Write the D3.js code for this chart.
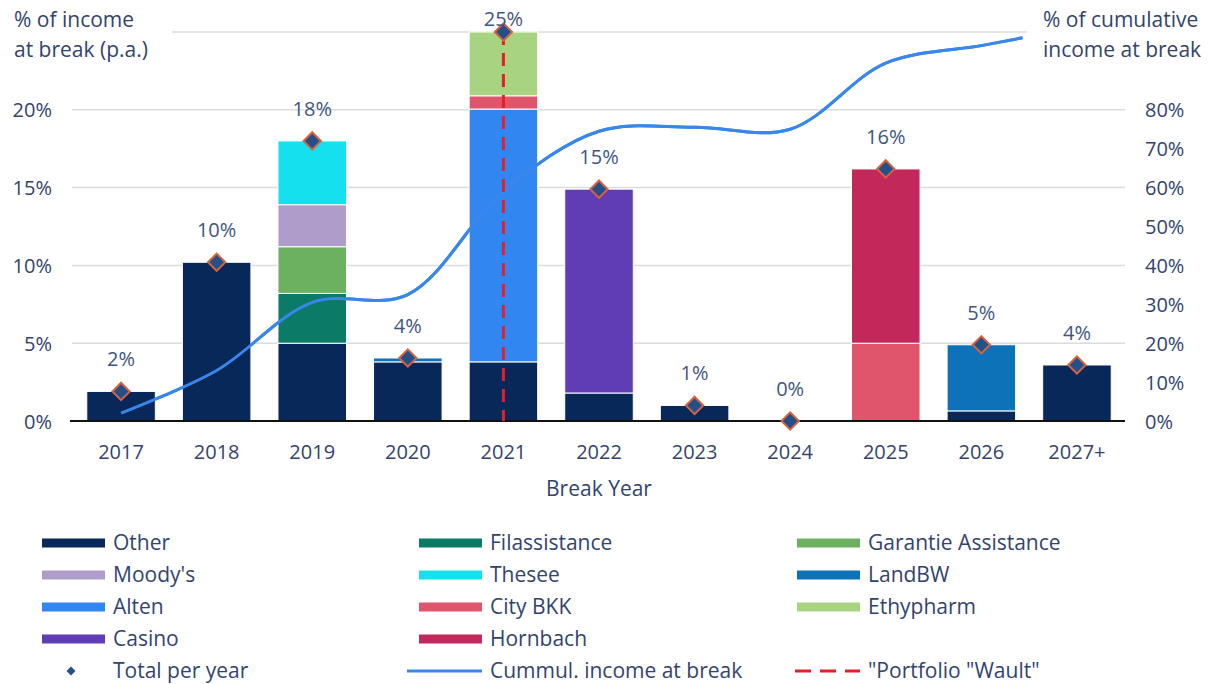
<!DOCTYPE html>
<html>
<head>
<meta charset="utf-8">
<script src="https://d3js.org/d3.v7.min.js"></script>
<style>
  body { margin: 0; background: #fff; }
  text { font-family: "Open Sans", "Noto Sans", sans-serif; }
  .grid line { stroke: #dcdcdc; stroke-width: 1.5px; }
  .tick-label { fill: #33446c; font-size: 20px; }
  .data-label { fill: #3f5680; font-size: 20px; }
  .legend text { fill: #33446c; font-size: 21px; }
</style>
</head>
<body>
<svg id="chart" width="1212" height="684"></svg>
<script>
// categories
const years = ["2017", "2018", "2019", "2020", "2021", "2022", "2023", "2024", "2025", "2026", "2027+"];

// % of income at break per tenant (p.a.)
const other        = [1.9, 10.2, 5.0, 3.8, 3.8, 1.8, 1.0, 0, 0, 0.65, 3.6];
const filassistance = [0, 0, 3.2, 0, 0, 0, 0, 0, 0, 0, 0];
const garantie     = [0, 0, 3.0, 0, 0, 0, 0, 0, 0, 0, 0];
const moodys       = [0, 0, 2.7, 0, 0, 0, 0, 0, 0, 0, 0];
const thesee       = [0, 0, 4.1, 0, 0, 0, 0, 0, 0, 0, 0];
const landbw       = [0, 0, 0, 0.25, 0, 0, 0, 0, 0, 4.25, 0];
const alten        = [0, 0, 0, 0, 16.25, 0, 0, 0, 0, 0, 0];
const citybkk      = [0, 0, 0, 0, 0.85, 0, 0, 0, 5.0, 0, 0];
const ethypharm    = [0, 0, 0, 0, 4.1, 0, 0, 0, 0, 0, 0];
const casino       = [0, 0, 0, 0, 0, 13.1, 0, 0, 0, 0, 0];
const hornbach     = [0, 0, 0, 0, 0, 0, 0, 0, 11.2, 0, 0];

// cumulative income at break (right axis) and where each point sits (year index)
const cumul    = [2, 13, 30.5, 32.5, 59, 74.5, 75.5, 75, 92, 96.5, 98.5];
const cumulPos = [0, 1, 2, 3, 4, 5, 6, 7, 8, 9, 9.43];

const waultYear = "2021";

const leftTicks = [0, 5, 10, 15, 20];
const rightTicks = [0, 10, 20, 30, 40, 50, 60, 70, 80];

const series = [
  { name: "Other", values: other, color: "#08285a" },
  { name: "Filassistance", values: filassistance, color: "#0b7a66" },
  { name: "Garantie Assistance", values: garantie, color: "#6cb160" },
  { name: "Moody's", values: moodys, color: "#af9ccb" },
  { name: "Thesee", values: thesee, color: "#15e1ee" },
  { name: "LandBW", values: landbw, color: "#0e72b9" },
  { name: "Alten", values: alten, color: "#3286f0" },
  { name: "City BKK", values: citybkk, color: "#df556b" },
  { name: "Ethypharm", values: ethypharm, color: "#a8d380" },
  { name: "Casino", values: casino, color: "#603db5" },
  { name: "Hornbach", values: hornbach, color: "#c2295a" }
];

const svg = d3.select("#chart");

const x = d3.scaleBand().domain(years).range([73.4, 1124.6])
  .paddingInner(0.283).paddingOuter(0.14);
const y = d3.scaleLinear().domain([0, 25]).range([421, 32]);
const yR = d3.scaleLinear().domain([0, 100]).range([421, 32]);
const xi = d3.scaleLinear().domain([0, years.length - 1])
  .range([x(years[0]) + x.bandwidth() / 2, x(years[years.length - 1]) + x.bandwidth() / 2]);

// gridlines
const grid = svg.append("g").attr("class", "grid");
grid.selectAll("line").data([5, 10, 15, 20, 25]).join("line")
  .attr("x1", 72).attr("x2", 1125)
  .attr("y1", d => y(d)).attr("y2", d => y(d));

// titles sit on white boxes over the top gridline
svg.append("rect").attr("x", 0).attr("y", 0).attr("width", 172).attr("height", 68).attr("fill", "#fff");
svg.append("rect").attr("x", 1027).attr("y", 0).attr("width", 185).attr("height", 68).attr("fill", "#fff");

const titles = svg.append("g").attr("class", "tick-label").style("font-size", "21px");
titles.append("text").attr("x", 14).attr("y", 27).text("% of income");
titles.append("text").attr("x", 14).attr("y", 57).text("at break (p.a.)");
titles.append("text").attr("x", 1043).attr("y", 27).text("% of cumulative");
titles.append("text").attr("x", 1043).attr("y", 57).text("income at break");

// cumulative line (behind bars)
const line = d3.line()
  .x((d, i) => xi(cumulPos[i]))
  .y(d => yR(d))
  .curve(d3.curveCatmullRom.alpha(0.5));
svg.append("path").datum(cumul)
  .attr("d", line)
  .attr("fill", "none")
  .attr("stroke", "#3a87ec")
  .attr("stroke-width", 3);

// stacked bars
const rows = years.map((yr, i) => {
  const r = { year: yr };
  series.forEach(s => r[s.name] = s.values[i]);
  return r;
});
const stack = d3.stack().keys(series.map(s => s.name))(rows);

svg.append("g").selectAll("g").data(stack).join("g")
  .attr("fill", (d, i) => series[i].color)
  .selectAll("rect").data(d => d.filter(p => p[1] - p[0] > 0)).join("rect")
  .attr("x", d => x(d.data.year))
  .attr("width", x.bandwidth())
  .attr("y", d => y(d[1]))
  .attr("height", d => y(d[0]) - y(d[1]))
  .attr("stroke", "#fff")
  .attr("stroke-width", 1);

// line again on top of the bars
svg.append("path").datum(cumul)
  .attr("d", line)
  .attr("fill", "none")
  .attr("stroke", "#3a87ec")
  .attr("stroke-width", 3);

// base axis line
svg.append("line").attr("x1", 70).attr("x2", 1125)
  .attr("y1", y(0)).attr("y2", y(0))
  .attr("stroke", "#111").attr("stroke-width", 2);

// wault dashed line
const wx = x(waultYear) + x.bandwidth() / 2;
const totals = years.map((yr, i) => d3.sum(series, s => s.values[i]));
svg.append("line")
  .attr("x1", wx).attr("x2", wx)
  .attr("y1", y(totals[years.indexOf(waultYear)])).attr("y2", y(0))
  .attr("stroke", "#e51f2a").attr("stroke-width", 3)
  .attr("stroke-dasharray", "13,8");

// totals: diamonds + labels
const diamond = d3.symbol().type(d3.symbolSquare).size(150);
svg.append("g").selectAll("path").data(totals).join("path")
  .attr("d", diamond)
  .attr("transform", (d, i) => `translate(${x(years[i]) + x.bandwidth() / 2},${y(d)}) rotate(45)`)
  .attr("fill", "#24508a")
  .attr("stroke", "#d8613f")
  .attr("stroke-width", 2);

svg.append("g").selectAll("text").data(totals).join("text")
  .attr("class", "data-label")
  .attr("text-anchor", "middle")
  .attr("x", (d, i) => x(years[i]) + x.bandwidth() / 2)
  .attr("y", d => Math.max(y(d) - 25, 26))
  .text(d => Math.round(d) + "%");

// axes
const ax = svg.append("g").attr("transform", `translate(0,${y(0)})`)
  .call(d3.axisBottom(x).tickSize(0).tickPadding(24));
ax.select(".domain").remove();
ax.selectAll("text").attr("class", "tick-label").attr("fill", null);

const ayl = svg.append("g").attr("transform", "translate(52,0)")
  .call(d3.axisLeft(y).tickValues(leftTicks).tickSize(0).tickPadding(0).tickFormat(d => d + "%"));
ayl.select(".domain").remove();
ayl.selectAll("text").attr("class", "tick-label").attr("fill", null).attr("dy", "0.35em");

const ayr = svg.append("g").attr("transform", "translate(1145,0)")
  .call(d3.axisRight(yR).tickValues(rightTicks).tickSize(0).tickPadding(0).tickFormat(d => d + "%"));
ayr.select(".domain").remove();
ayr.selectAll("text").attr("class", "tick-label").attr("fill", null).attr("dy", "0.35em");

svg.append("text").attr("class", "tick-label")
  .style("font-size", "21px")
  .attr("x", (x.range()[0] + x.range()[1]) / 2).attr("y", 496)
  .attr("text-anchor", "middle").text("Break Year");

// legend
const legendItems = series.map(s => ({ name: s.name, kind: "bar", color: s.color }));
legendItems.push({ name: null });
legendItems.push({ name: "Total per year", kind: "diamond" });
legendItems.push({ name: "Cummul. income at break", kind: "line" });
legendItems.push({ name: "\"Portfolio \"Wault\"", kind: "dash" });

const colX = [42, 419, 797];
const legend = svg.append("g").attr("class", "legend");
const item = legend.selectAll("g").data(legendItems.filter(d => d.name !== null))
  .join("g")
  .attr("transform", d => {
    const i = legendItems.indexOf(d);
    return `translate(${colX[i % 3]},${543 + Math.floor(i / 3) * 32})`;
  });
item.filter(d => d.kind === "bar").append("rect")
  .attr("x", 0).attr("y", -4.5).attr("width", 63).attr("height", 9)
  .attr("fill", d => d.color);
item.filter(d => d.kind === "diamond").append("path")
  .attr("d", d3.symbol().type(d3.symbolSquare).size(40))
  .attr("transform", "translate(29,0) rotate(45)")
  .attr("fill", "#24508a");
item.filter(d => d.kind === "line").append("line")
  .attr("x1", -12).attr("x2", 63).attr("y1", 0).attr("y2", 0)
  .attr("stroke", "#3a87ec").attr("stroke-width", 3);
item.filter(d => d.kind === "dash").append("line")
  .attr("x1", -2).attr("x2", 63).attr("y1", 0).attr("y2", 0)
  .attr("stroke", "#e51f2a").attr("stroke-width", 3)
  .attr("stroke-dasharray", "16,9");
item.append("text")
  .attr("x", 71).attr("y", 0).attr("dy", "0.35em")
  .text(d => d.name);
</script>
</body>
</html>
